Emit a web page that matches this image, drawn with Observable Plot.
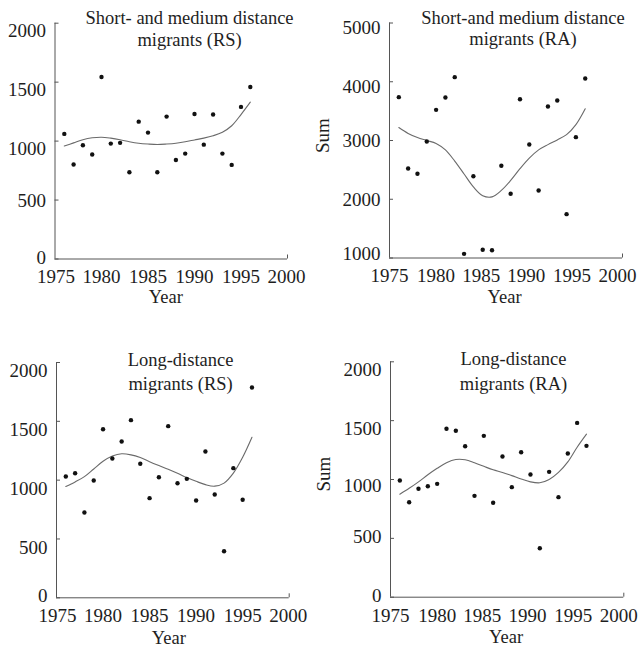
<!DOCTYPE html>
<html><head><meta charset="utf-8">
<script src="https://cdn.jsdelivr.net/npm/d3@7"></script>
<script src="https://cdn.jsdelivr.net/npm/@observablehq/plot@0.6"></script>
<style>
body{margin:0;background:#fff;}
#root{position:relative;width:641px;height:647px;background:#fff;}
#root svg{position:absolute;overflow:visible;}
</style>
</head><body><div id="root"></div>
<script>
// ---- data ----
const years = [1976,1977,1978,1979,1980,1981,1982,1983,1984,1985,1986,1987,1988,1989,1990,1991,1992,1993,1994,1995,1996];

const shortRS    = [1061,801,965,886,1544,979,985,736,1165,1072,736,1208,840,894,1230,970,1225,894,798,1290,1459];
const shortRSfit = [958,985,1012,1028,1033,1025,1012,995,982,975,971,975,982,995,1010,1025,1045,1075,1130,1225,1330];

const shortRA    = [3738,2523,2433,2983,3522,3732,4078,1071,2392,1140,1133,2569,2093,3703,2932,2149,3579,3681,1746,3057,4055];
const shortRAfit = [3220,3120,3050,3000,2950,2840,2650,2430,2210,2060,2040,2150,2320,2520,2700,2840,2930,3010,3100,3270,3540];

const longRS     = [1031,1059,725,997,1433,1184,1329,1510,1139,847,1025,1459,974,1011,827,1244,878,396,1102,833,1788];
const longRSfit  = [946,985,1030,1095,1160,1205,1224,1215,1192,1157,1124,1092,1058,1022,990,962,949,975,1060,1195,1365];

const longRA     = [992,807,921,943,963,1431,1414,1283,861,1371,802,1195,935,1232,1042,416,1065,850,1221,1481,1286];
const longRAfit  = [875,925,980,1040,1095,1143,1170,1168,1143,1112,1082,1060,1033,1005,980,972,1000,1060,1150,1274,1385];

const xTicks = [1975,1980,1985,1990,1995,2000];
const yTicks2000 = [0,500,1000,1500,2000];
const yTicks5000 = [1000,2000,3000,4000,5000];

const titleShortRS = "Short- and medium distance\nmigrants (RS)";
const titleShortRA = "Short-and medium distance\nmigrants (RA)";
const titleLongRS  = "Long-distance\nmigrants (RS)";
const titleLongRA  = "Long-distance\nmigrants (RA)";
const xLabel = "Year";
const yLabel = "Sum";

// ---- layout / style config ----
const leftXdx  = [1,0,0,0,0,-1];
const rightXdx = [0,0,-1.5,-3,-4,-5];
const panels = [
  {left:0, top:0, width:320, height:320, mL:54.5, mR:33, mT:22.7, mB:61.5,
   yDomain:[0,2000], yTicks:yTicks2000, values:shortRS, fit:shortRSfit, title:titleShortRS,
   tDx:18.3, tDy:4.8, tLH:1.16, yearDx:-5.5, yearDy:38.5, xPad:10, xDx:leftXdx, sum:null,
   labelGroups:[[[1000,1500,2000],7.5],[[500],0.5],[[0],-1]]},
  {left:320, top:0, width:321, height:320, mL:69, mR:19, mT:22.5, mB:62.5,
   yDomain:[1000,5000], yTicks:yTicks5000, values:shortRA, fit:shortRAfit, title:titleShortRA,
   tDx:17, tDy:4.8, tLH:1.16, yearDx:-1.5, yearDy:39, xPad:10, xDx:rightXdx, sum:{dx:-66.5, dy:12.5},
   labelGroups:[[[4000,5000],5],[[2000,3000],0.5],[[1000],-4]]},
  {left:0, top:320, width:320, height:327, mL:56, mR:31.3, mT:42, mB:49.7,
   yDomain:[0,2000], yTicks:yTicks2000, values:longRS, fit:longRSfit, title:titleLongRS,
   tDx:7.7, tDy:7.8, tLH:1.29, yearDx:-4, yearDy:40, xPad:11, xDx:leftXdx, sum:null,
   labelGroups:[[[500,1000,1500,2000],8.5],[[0],-2]]},
  {left:320, top:320, width:321, height:327, mL:70, mR:17.7, mT:41.3, mB:50.3,
   yDomain:[0,2000], yTicks:yTicks2000, values:longRA, fit:longRAfit, title:titleLongRA,
   tDx:6.3, tDy:7.9, tLH:1.36, yearDx:-1, yearDy:39.5, xPad:11, xDx:rightXdx, sum:{dx:-66.7, dy:12},
   labelGroups:[[[1500,2000],7.8],[[1000],6.7],[[500],-1],[[0],-1.7]]}
];

const ink = "#1e1e1e";
const axisInk = "#555";
const root = document.getElementById("root");

for (const p of panels) {
  const pts = years.map((y,i) => ({year:y, v:p.values[i]}));
  const fit = years.map((y,i) => ({year:y, v:p.fit[i]}));
  const marks = [
    Plot.ruleX([xTicks[0]], {stroke:axisInk, strokeWidth:1}),
    Plot.ruleY([p.yDomain[0]], {stroke:axisInk, strokeWidth:1}),
    // inward y ticks
    Plot.axisY({ticks:p.yTicks, tickSize:4, dx:4, fill:"none", stroke:axisInk, label:null}),
    // end tick on x axis
    Plot.axisX({ticks:[xTicks[xTicks.length-1]], tickSize:4, dy:-4, fill:"none", stroke:axisInk, label:null}),
    ...xTicks.map((t,i) => Plot.axisX({ticks:[t], tickSize:0, tickPadding:p.xPad, dx:p.xDx[i], tickFormat:d=>String(d), label:null, fill:ink, fontSize:19})),
    ...p.labelGroups.map(([t,dy]) => Plot.axisY({ticks:t, tickSize:0, tickPadding:9, dy, tickFormat:d=>String(d), label:null, fill:ink, fontSize:19})),
    Plot.line(fit, {x:"year", y:"v", curve:"catmull-rom", stroke:"#6a6a6a", strokeWidth:1.1}),
    Plot.dot(pts, {x:"year", y:"v", r:2.2, fill:"#111", stroke:null}),
    Plot.text([p.title], {text:d=>d, frameAnchor:"top", dx:p.tDx, dy:p.tDy, lineAnchor:"middle", lineHeight:p.tLH, fontSize:18.5, fill:ink}),
    Plot.text([xLabel], {text:d=>d, frameAnchor:"bottom", dx:p.yearDx, dy:p.yearDy, lineAnchor:"middle", fontSize:18.5, fill:ink})
  ];
  if (p.sum) marks.push(Plot.text([yLabel], {text:d=>d, frameAnchor:"left", rotate:-90, dx:p.sum.dx, dy:p.sum.dy, lineAnchor:"middle", fontSize:19, fill:ink}));
  const svg = Plot.plot({
    width:p.width, height:p.height,
    marginLeft:p.mL, marginRight:p.mR, marginTop:p.mT, marginBottom:p.mB,
    x:{domain:[xTicks[0], xTicks[xTicks.length-1]], axis:null},
    y:{domain:p.yDomain, axis:null},
    style:{fontFamily:"'Liberation Serif', 'Times New Roman', serif", fontSize:"19px", background:"transparent", color:ink, overflow:"visible"},
    marks
  });
  svg.style.left = p.left + "px";
  svg.style.top = p.top + "px";
  root.appendChild(svg);
}
</script>
</body></html>
